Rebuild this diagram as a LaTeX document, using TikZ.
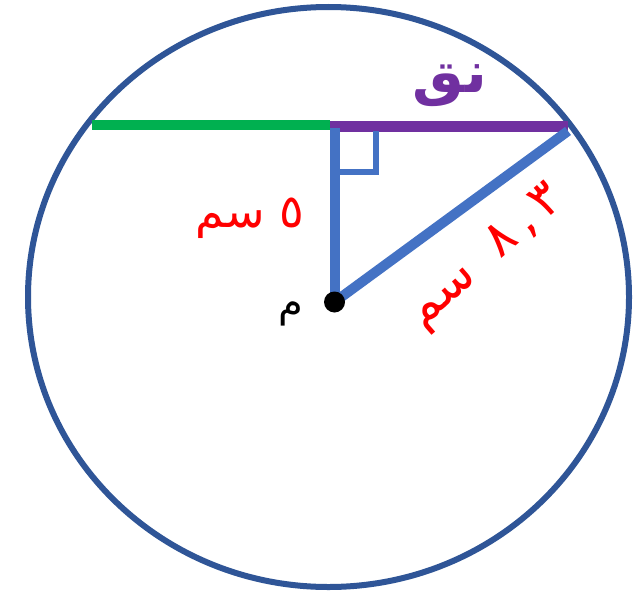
\documentclass[tikz,border=0pt]{standalone}
\usepackage{fontspec}
\newfontfamily\arabicfont[Script=Arabic]{DejaVu Sans}
\TeXXeTstate=1
\definecolor{circblue}{HTML}{2F5597}
\definecolor{lineblue}{HTML}{4472C4}
\definecolor{chordgreen}{HTML}{00B050}
\definecolor{radpurple}{HTML}{7030A0}
\definecolor{labred}{HTML}{FF0000}
\tikzset{
  ring/.style={draw=circblue,line width=6pt},
  seg/.style={line width=10pt},
  lab/.style={font=\arabicfont,inner sep=0pt}
}
\begin{document}
\begin{tikzpicture}[x=1pt,y=-1pt]
\useasboundingbox (0,0) rectangle (636,594);
\fill[white] (0,0) rectangle (636,594);
% points
\coordinate (C) at (328.5,297);
\coordinate (L) at (92,125);
\coordinate (M) at (330,125);
\coordinate (Mp) at (330,126.5);
\coordinate (R) at (568,126.5);
\coordinate (A) at (334.5,128);
\coordinate (O) at (334.5,302);
\coordinate (H) at (568,131);
% circle
\draw[ring] (C) ellipse [x radius=300.5, y radius=290];
% chord parts
\draw[seg,chordgreen] (L) -- (M);
\draw[seg,radpurple,line width=11pt] (Mp) -- (R);
% right-angle mark
\draw[lineblue,line width=6pt] (375.5,131) -- (375.5,172) -- (334.5,172);
% perpendicular and radius
\draw[seg,lineblue] (A) -- (O);
\draw[seg,lineblue] (O) -- (H);
% centre dot
\node[circle,fill=black,minimum size=21pt,inner sep=0pt] (dot) at (O) {};
% labels
\node[lab,text=radpurple,font=\arabicfont\bfseries\fontsize{58}{58}\selectfont] (nq) at (450,86) {\beginR نق\endR};
\node[lab,text=labred,font=\arabicfont\fontsize{46}{46}\selectfont] (five) at (250,218) {\beginR ٥ سم\endR};
\node[lab,text=black,font=\arabicfont\fontsize{40}{40}\selectfont] (m) at (291,314) {\beginR م\endR};
\node[lab,text=labred,font=\arabicfont\fontsize{50}{50}\selectfont,rotate=41] (hyp) at (487,258) {\beginR \beginL٨\,,\,٣\endL{}\; سم\endR};
\end{tikzpicture}
\end{document}
